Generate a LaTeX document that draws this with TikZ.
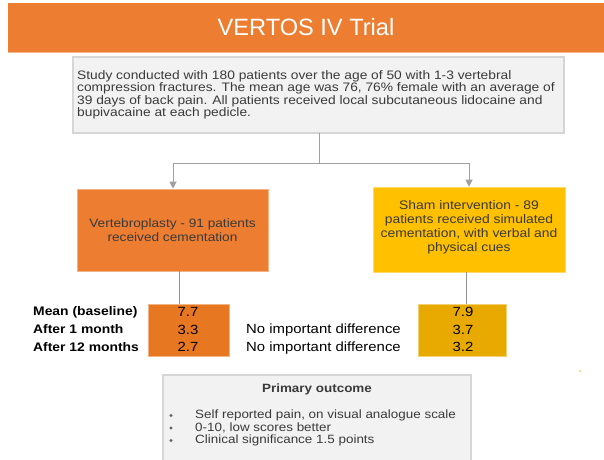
\documentclass[tikz,border=0pt]{standalone}
\usepackage{fontspec}
\setmainfont{Liberation Sans}
\newfontfamily\wsans[FakeStretch=1.12]{Liberation Sans}
\usetikzlibrary{arrows.meta}
\definecolor{orangeA}{HTML}{ED7D31}
\definecolor{orangeB}{HTML}{E87722}
\definecolor{yellowA}{HTML}{FFC000}
\definecolor{goldB}{HTML}{E8A900}
\definecolor{boxgray}{HTML}{F2F2F2}
\definecolor{bordergray}{HTML}{D6D6D6}
\definecolor{txtgray}{HTML}{3A3A3A}
\definecolor{linegray}{HTML}{A0A0A0}
\tikzset{
  txt/.style={font=\wsans\fontsize{12.3}{12.5}\selectfont, text=txtgray, inner sep=0pt},
  graybox/.style={draw=bordergray, line width=1.8pt, fill=boxgray},
  conn/.style={draw=linegray, line width=1pt},
  arr/.style={conn, -{Triangle[width=7pt,length=7pt]}},
  lbl/.style={font=\wsans\bfseries\fontsize{12.4}{13}\selectfont, text=black, anchor=west, inner sep=0pt},
  num/.style={font=\wsans\fontsize{13.3}{14}\selectfont, text=black, inner sep=0pt},
}
\begin{document}
\begin{tikzpicture}[x=1pt,y=-1pt]
\useasboundingbox (0,0) rectangle (604,459);
% title
\fill[orangeA] (8,3) rectangle (604,52);
\draw[orangeA!55!white, line width=0.8pt] (8,52) -- (604,52);
\node[font=\fontsize{23.6}{26}\selectfont, text=white] (title) at (306,27) {VERTOS IV Trial};
% top box
\draw[graybox] (73,57) rectangle (564,133);
\coordinate (topbot) at (319,133);
\node[txt, anchor=north west, align=left] (toptxt) at (77,70) {Study conducted with 180 patients over the age of 50 with 1-3 vertebral\\compression fractures. The mean age was 76, 76\% female with an average of\\39 days of back pain. All patients received local subcutaneous lidocaine and\\bupivacaine at each pedicle.};
% arms
\node[fill=orangeA, draw=orangeA!60!white, line width=0.6pt, minimum width=191pt, minimum height=82pt, inner sep=0pt] (left) at (172.5,230) {};
\node[txt, font=\wsans\fontsize{12.2}{13.3}\selectfont, align=center] at (left.center) {Vertebroplasty - 91 patients\\received cementation};
\node[fill=yellowA, draw=yellowA!60!white, line width=0.6pt, minimum width=192pt, minimum height=85pt, inner sep=0pt] (right) at (469,229.5) {};
\node[txt, font=\wsans\fontsize{12.4}{13.9}\selectfont, align=center] at (469,227.5) {Sham intervention - 89\\patients received simulated\\cementation, with verbal and\\physical cues};
% connectors
\coordinate (split) at (319,163);
\draw[conn] (topbot) -- (split);
\draw[arr] (split) -| (left.north -| 173,0);
\draw[arr] (split) -| (right.north -| 469,0);
% result boxes
\node[fill=orangeB, draw=orangeB!55!white, line width=0.6pt, minimum width=81pt, minimum height=52pt, inner sep=0pt] (lres) at (188.5,330) {};
\node[fill=goldB, draw=goldB!55!white, line width=0.6pt, minimum width=88pt, minimum height=52pt, inner sep=0pt] (rres) at (462,330) {};
\draw[conn, draw=gray!85] (left.south -| 179,0) -- (lres.north -| 179,0);
\draw[conn, draw=gray!85] (right.south -| 466,0) -- (rres.north -| 466,0);
\node[num] (l1) at (188,312) {7.7};
\node[num] (l2) at (188,329.5) {3.3};
\node[num] (l3) at (188,347) {2.7};
\node[num] (r1) at (463,312) {7.9};
\node[num] (r2) at (463,329.5) {3.7};
\node[num] (r3) at (463,347) {3.2};
\node[lbl] (m0) at (33,312) {Mean (baseline)};
\node[lbl] (m1) at (33,329.5) {After 1 month};
\node[lbl] (m2) at (33,347) {After 12 months};
\node[num, anchor=west] (d1) at (246,330.5) {No important difference};
\node[num, anchor=west] (d2) at (246,348) {No important difference};
% bottom box
\draw[graybox] (163,375) rectangle (471,463);
\node[txt, font=\wsans\bfseries\fontsize{12}{13}\selectfont] (po) at (317,389) {Primary outcome};
\foreach \yy/\tt [count=\i] in {415/{Self reported pain, on visual analogue scale},427.5/{0-10, low scores better},440/{Clinical significance 1.5 points}}{
  \node[txt, font=\wsans\fontsize{12}{12.5}\selectfont, anchor=west] (b\i) at (195,\yy) {\tt};
  \fill[txtgray!80] (171,\yy+0.5) circle (1.6pt);
}
% stray speck
\fill[yellowA] (580,371) circle (0.8pt);
\end{tikzpicture}
\end{document}
